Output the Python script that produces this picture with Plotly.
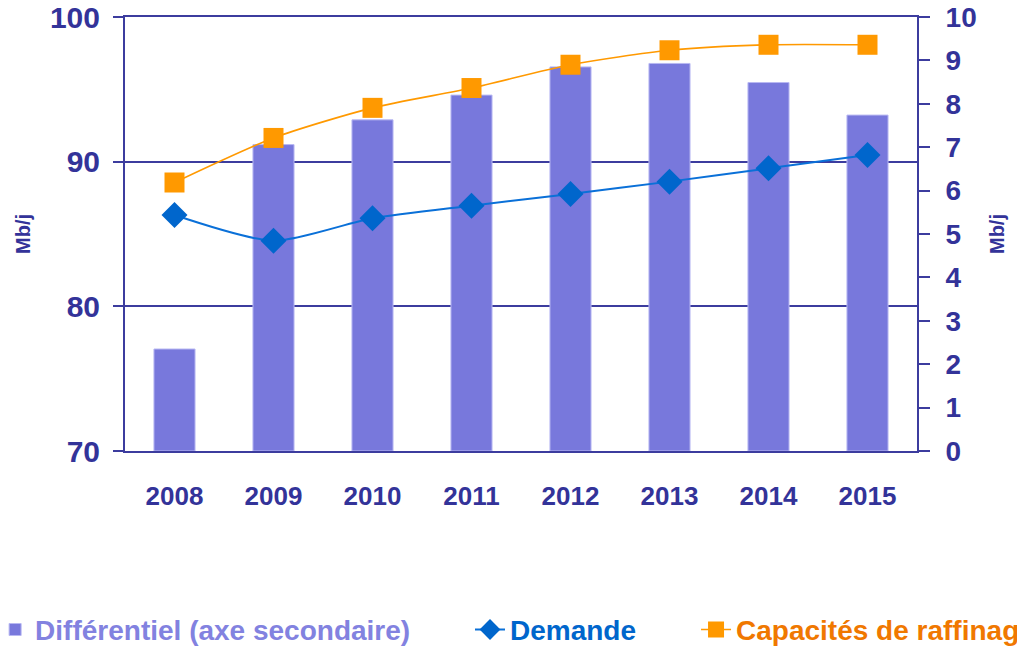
import plotly.graph_objects as go

# ---- data ----
years = ["2008", "2009", "2010", "2011", "2012", "2013", "2014", "2015"]
differentiel = [2.35, 7.06, 7.63, 8.20, 8.85, 8.93, 8.49, 7.74]   # right axis
demande = [86.31, 84.54, 86.09, 86.96, 87.77, 88.62, 89.54, 90.46]  # left axis
capacites = [88.56, 91.64, 93.72, 95.09, 96.70, 97.70, 98.08, 98.08]  # left axis
left_ticks = [70, 80, 90, 100]
right_ticks = [0, 1, 2, 3, 4, 5, 6, 7, 8, 9, 10]

AXIS = "#3C3C9E"
TXT = "#333399"
FONT = "Liberation Sans, Arial, sans-serif"

fig = go.Figure()
fig.add_trace(go.Bar(
    x=years, y=differentiel, name="Différentiel (axe secondaire)",
    marker=dict(color="#7878DC", line=dict(color="#B8B8F2", width=1)),
    width=0.415, yaxis="y", legend="legend",
))
fig.add_trace(go.Scatter(
    x=years, y=demande, name="Demande", mode="lines+markers",
    line=dict(color="#0A70D8", width=2, shape="spline", smoothing=0.7),
    marker=dict(symbol="diamond", size=20, color="#0066CC"),
    yaxis="y2", legend="legend2",
))
fig.add_trace(go.Scatter(
    x=years, y=capacites, name="Capacités de raffinage", mode="lines+markers",
    line=dict(color="#FF9900", width=1.6, shape="spline", smoothing=0.7),
    marker=dict(symbol="square", size=20, color="#FF9900"),
    yaxis="y2", legend="legend3",
))

def leg(x, color):
    return dict(
        x=x, y=-0.412, xanchor="left", yanchor="middle", orientation="h",
        bgcolor="rgba(0,0,0,0)", borderwidth=0,
        font=dict(family=FONT, size=28, color=color, weight="bold"),
    )

fig.update_layout(
    width=1017, height=652,
    margin=dict(l=125, r=100, t=17, b=201, autoexpand=False),
    paper_bgcolor="white", plot_bgcolor="white",
    bargap=0.5,
    showlegend=True,
    legend=leg(-0.164, "#8282E0"),
    legend2=leg(0.4356, "#0066CC"),
    legend3=leg(0.721, "#F07800"),
    xaxis=dict(
        type="category", range=[-0.5, 7.5], showline=True, mirror=True,
        linecolor=AXIS, linewidth=2, ticks="", showgrid=False,
        ticklabelstandoff=21,
        tickfont=dict(family=FONT, size=26, color=TXT, weight="bold"),
    ),
    yaxis=dict(
        side="right", range=[0, 10], tickvals=right_ticks, ticks="outside",
        ticklen=11, tickwidth=2, tickcolor=AXIS, showline=True, linecolor=AXIS,
        linewidth=2, showgrid=False, zeroline=False, ticklabelstandoff=10,
        ticklabeloverflow="allow",
        tickfont=dict(family=FONT, size=28, color=TXT, weight="bold"),
        title=dict(text="Mb/j", standoff=14,
                   font=dict(family=FONT, size=20, color=TXT, weight="bold")),
    ),
    yaxis2=dict(
        overlaying="y", side="left", range=[70, 100], tickvals=left_ticks,
        ticks="outside", ticklen=10, tickwidth=2, tickcolor=AXIS,
        showline=True, linecolor=AXIS, linewidth=2,
        showgrid=True, gridcolor=AXIS, gridwidth=2, zeroline=False,
        ticklabelstandoff=7, ticklabeloverflow="allow",
        tickfont=dict(family=FONT, size=30, color=TXT, weight="bold"),
        title=dict(text="Mb/j", standoff=14,
                   font=dict(family=FONT, size=20, color=TXT, weight="bold")),
    ),
)

fig.write_html(
    "out.html",
    config={"displayModeBar": False},
    post_script="document.body.style.margin='0';document.body.style.overflow='hidden';",
)
